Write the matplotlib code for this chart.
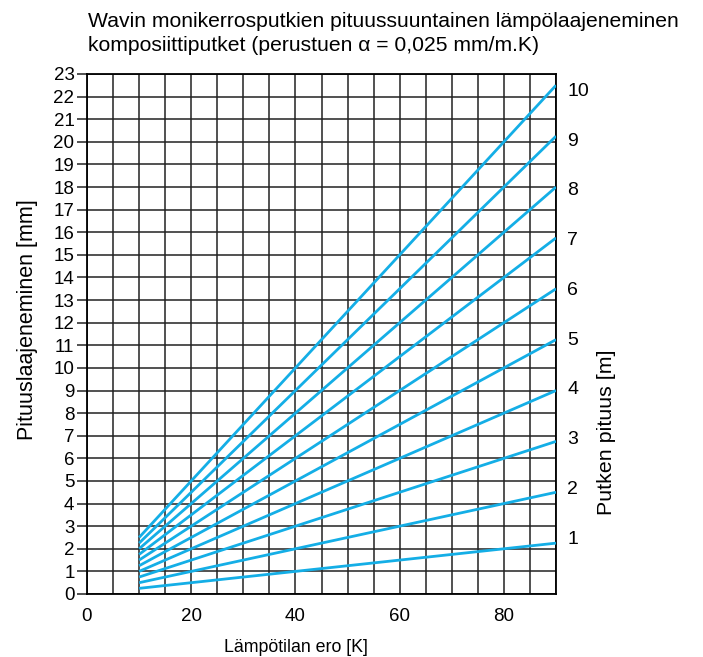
import matplotlib
matplotlib.use("Agg")
import matplotlib.pyplot as plt
import numpy as np

plt.rcParams['font.family'] = ['Liberation Sans', 'DejaVu Sans']

alpha = 0.025  # mm/m.K
pipe_lengths = [1, 2, 3, 4, 5, 6, 7, 8, 9, 10]
dT = [10, 90]
x_ticks = [0, 20, 40, 60, 80]
y_ticks = list(range(0, 24))
right_tick_pos = [2.52, 4.72, 6.92, 9.12, 11.32, 13.52, 15.72, 17.92, 20.12, 22.32]
right_tick_labels = [str(v) for v in pipe_lengths]

W, H = 703, 657
fig = plt.figure(figsize=(W/100, H/100), dpi=100)
ax = fig.add_axes([87/W, 1-594/H, (556-87)/W, (594-74)/H])

ax.set_xlim(0, 90)
ax.set_ylim(0, 23)
ax.set_xticks(np.arange(0, 91, 5), minor=True)
ax.set_xticks(x_ticks)
ax.set_yticks(y_ticks)
ax.grid(True, which='both', color='#222222', lw=1.1)
ax.set_axisbelow(True)

blue = '#14aee6'
for L in pipe_lengths:
    xs = np.array(dT, dtype=float)
    ax.plot(xs, alpha*L*xs, color=blue, lw=2.0, solid_capstyle='butt', zorder=3)

for s in ax.spines.values():
    s.set_color('black')
    s.set_linewidth(1.3)

ax.tick_params(axis='y', which='major', length=7, width=1.1, color='#222222', labelsize=13.5, pad=2)
ax.tick_params(axis='x', which='both', length=0, labelsize=13.5, pad=10)

ax2 = ax.twinx()
ax2.set_ylim(0, 23)
ax2.set_yticks(right_tick_pos)
ax2.set_yticklabels(right_tick_labels)
ax2.tick_params(axis='y', length=0, labelsize=14, pad=8)
for s in ax2.spines.values():
    s.set_visible(False)

fig.text(28/W, 1-320/H, 'Pituuslaajeneminen [mm]', rotation=90, ha='center', va='center', fontsize=15.5)
fig.text(607/W, 1-432/H, 'Putken pituus [m]', rotation=90, ha='center', va='center', fontsize=15.4)
fig.text(296/W, 1-647/H, 'Lämpötilan ero [K]', ha='center', va='center', fontsize=12.8)

fig.text(88/W, 1-27/H, 'Wavin monikerrosputkien pituussuuntainen lämpölaajeneminen',
         ha='left', va='baseline', fontsize=15.25)
fig.text(88/W, 1-51/H, 'komposiittiputket (perustuen α = 0,025 mm/m.K)',
         ha='left', va='baseline', fontsize=15.25)

fig.savefig('out.png', dpi=100)
